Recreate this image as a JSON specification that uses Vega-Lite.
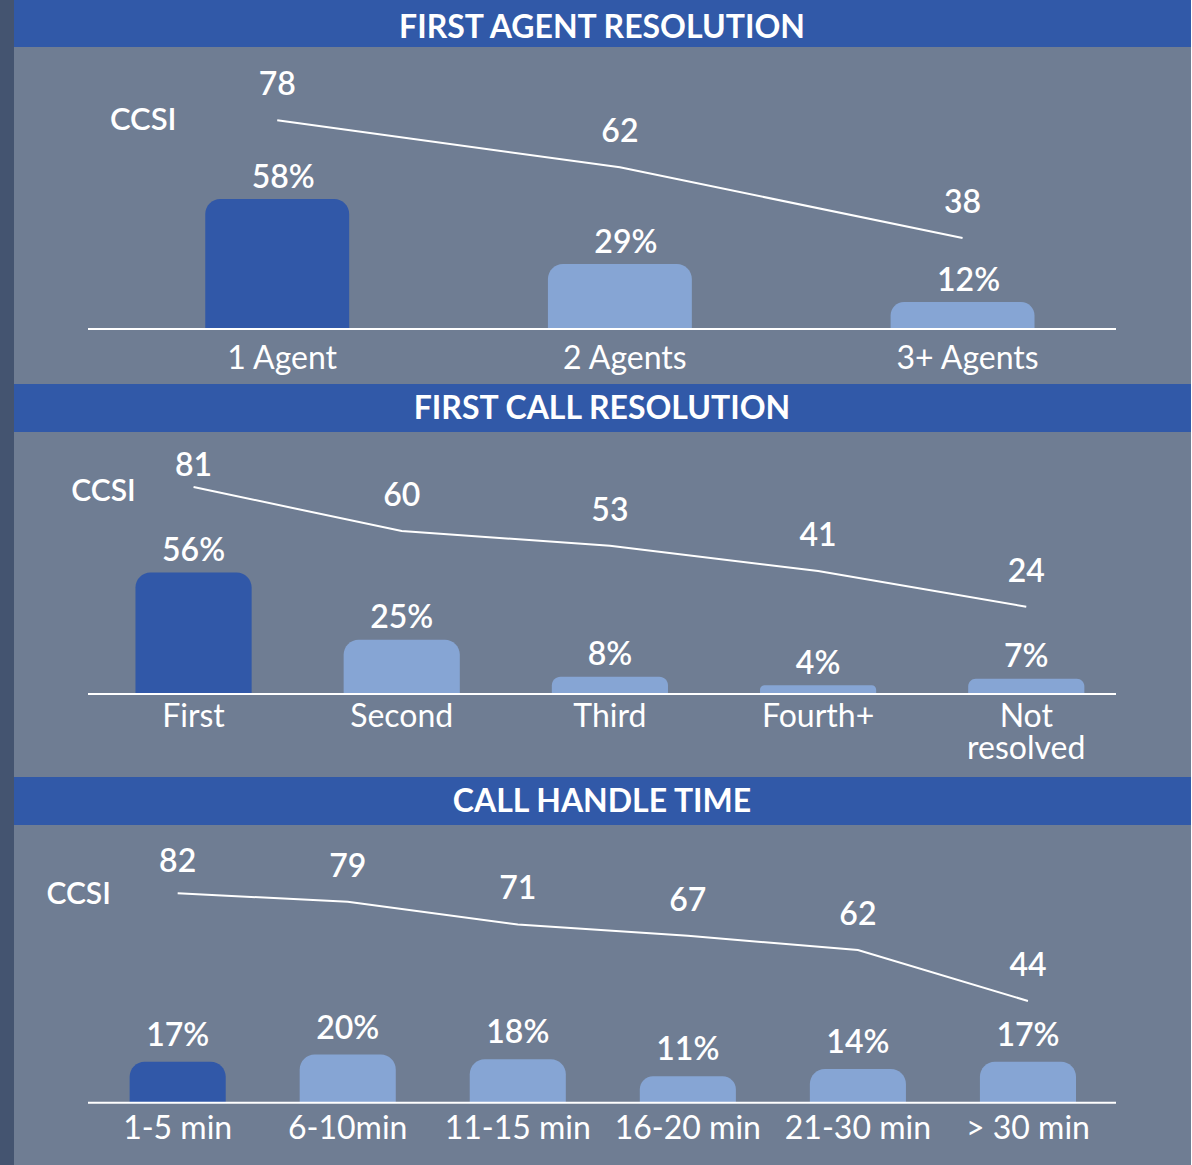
{
  "$schema": "https://vega.github.io/schema/vega-lite/v6.json",
  "background": "#6f7d93",
  "padding": 0,
  "spacing": 0,
  "bounds": "flush",
  "config": {
    "view": {"stroke": null},
    "font": "Lato",
    "text": {"font": "Lato", "fill": "white"}
  },
  "hconcat": [
    {
      "width": 13, "height": 1165,
      "view": {"fill": "#445470"},
      "data": {"values": [{"t": ""}]},
      "mark": {"type": "text"},
      "encoding": {"text": {"field": "t"}}
    },
    {
      "spacing": 0,
      "center": true,
      "bounds": "flush",
      "vconcat": [
        {
          "width": 1178, "height": 47,
          "view": {"fill": "#3159a8"},
          "data": {"values": [{"title": "FIRST AGENT RESOLUTION"}]},
          "mark": {"type": "text", "fontSize": 32, "fontWeight": 700, "baseline": "alphabetic", "dy": 14},
          "encoding": {"text": {"field": "title"}}
        },
        {
          "width": 1028, "height": 337,
          "data": {"values": [
            {"cat": "1 Agent", "pct": 0.58, "ccsi": 78},
            {"cat": "2 Agents", "pct": 0.29, "ccsi": 62},
            {"cat": "3+ Agents", "pct": 0.12, "ccsi": 38}
          ]},
          "layer": [
            {
              "mark": {"type": "bar", "cornerRadiusTopLeft": 15, "cornerRadiusTopRight": 15},
              "encoding": {
                "x": {"field": "cat", "type": "nominal", "sort": null, "scale": {"paddingInner": 0.58, "paddingOuter": 0.29, "align": 0.59}, "axis": null},
                "y": {"field": "pct", "type": "quantitative", "scale": {"domain": [-0.2455, 1.2589], "nice": false, "zero": false}, "axis": null},
                "y2": {"datum": 0},
                "color": {"condition": {"test": "datum.cat === '1 Agent'", "value": "#3158a8"}, "value": "#86a5d4"}
              }
            },
            {
              "mark": {"type": "text", "fontSize": 32, "fontWeight": 600, "baseline": "alphabetic", "dy": -11, "dx": 6},
              "encoding": {
                "x": {"field": "cat", "type": "nominal", "sort": null, "scale": {"paddingInner": 0.58, "paddingOuter": 0.29, "align": 0.59}, "axis": null},
                "y": {"field": "pct", "type": "quantitative", "scale": {"domain": [-0.2455, 1.2589], "nice": false, "zero": false}, "axis": null},
                "text": {"field": "pct", "type": "quantitative", "format": ".0%"}
              }
            },
            {
              "transform": [{"filter": "datum.cat === '1 Agent'"}],
              "mark": {"type": "rule", "color": "white", "strokeWidth": 2},
              "encoding": {
                "y": {"datum": 0, "type": "quantitative", "scale": {"domain": [-0.2455, 1.2589], "nice": false, "zero": false}, "axis": null}
              }
            },
            {
              "mark": {"type": "text", "fontSize": 32, "fontWeight": 400, "baseline": "alphabetic", "dy": 40, "dx": 5},
              "encoding": {
                "x": {"field": "cat", "type": "nominal", "sort": null, "scale": {"paddingInner": 0.58, "paddingOuter": 0.29, "align": 0.59}, "axis": null},
                "y": {"datum": 0, "type": "quantitative", "scale": {"domain": [-0.2455, 1.2589], "nice": false, "zero": false}, "axis": null},
                "text": {"field": "cat"}
              }
            },
            {
              "mark": {"type": "line", "color": "white", "strokeWidth": 2},
              "encoding": {
                "x": {"field": "cat", "type": "nominal", "sort": null, "scale": {"paddingInner": 0.58, "paddingOuter": 0.29, "align": 0.59}, "axis": null},
                "y": {"field": "ccsi", "type": "quantitative", "scale": {"domain": [-11.69, 102.93], "nice": false, "zero": false}, "axis": null}
              }
            },
            {
              "mark": {"type": "text", "fontSize": 32, "fontWeight": 600, "baseline": "alphabetic", "dy": -25},
              "encoding": {
                "x": {"field": "cat", "type": "nominal", "sort": null, "scale": {"paddingInner": 0.58, "paddingOuter": 0.29, "align": 0.59}, "axis": null},
                "y": {"field": "ccsi", "type": "quantitative", "scale": {"domain": [-11.69, 102.93], "nice": false, "zero": false}, "axis": null},
                "text": {"field": "ccsi", "type": "quantitative", "format": "d"}
              }
            },
            {
              "transform": [{"filter": "datum.cat === '1 Agent'"}],
              "mark": {"type": "text", "fontSize": 31, "fontWeight": 600, "baseline": "alphabetic", "dx": -134, "dy": 10},
              "encoding": {
                "x": {"field": "cat", "type": "nominal", "sort": null, "scale": {"paddingInner": 0.58, "paddingOuter": 0.29, "align": 0.59}, "axis": null},
                "y": {"field": "ccsi", "type": "quantitative", "scale": {"domain": [-11.69, 102.93], "nice": false, "zero": false}, "axis": null},
                "text": {"value": "CCSI"}
              }
            }
          ],
          "resolve": {"scale": {"y": "independent"}}
        },
        {
          "width": 1178, "height": 48,
          "view": {"fill": "#3159a8"},
          "data": {"values": [{"title": "FIRST CALL RESOLUTION"}]},
          "mark": {"type": "text", "fontSize": 32, "fontWeight": 700, "baseline": "alphabetic", "dy": 11},
          "encoding": {"text": {"field": "title"}}
        },
        {
          "width": 1028, "height": 345,
          "data": {"values": [
            {"cat": "First", "pct": 0.56, "ccsi": 81},
            {"cat": "Second", "pct": 0.25, "ccsi": 60},
            {"cat": "Third", "pct": 0.08, "ccsi": 53},
            {"cat": "Fourth+", "pct": 0.04, "ccsi": 41},
            {"cat": "Not resolved", "pct": 0.07, "ccsi": 24}
          ]},
          "layer": [
            {
              "mark": {"type": "bar", "cornerRadiusTopLeft": 15, "cornerRadiusTopRight": 15},
              "encoding": {
                "x": {"field": "cat", "type": "nominal", "sort": null, "scale": {"paddingInner": 0.442, "paddingOuter": 0.19, "align": 0.6}, "axis": null},
                "y": {"field": "pct", "type": "quantitative", "scale": {"domain": [-0.3825, 1.2074], "nice": false, "zero": false}, "axis": null},
                "y2": {"datum": 0},
                "color": {"condition": {"test": "datum.cat === 'First'", "value": "#3158a8"}, "value": "#86a5d4"}
              }
            },
            {
              "mark": {"type": "text", "fontSize": 32, "fontWeight": 600, "baseline": "alphabetic", "dy": -11.5},
              "encoding": {
                "x": {"field": "cat", "type": "nominal", "sort": null, "scale": {"paddingInner": 0.442, "paddingOuter": 0.19, "align": 0.6}, "axis": null},
                "y": {"field": "pct", "type": "quantitative", "scale": {"domain": [-0.3825, 1.2074], "nice": false, "zero": false}, "axis": null},
                "text": {"field": "pct", "type": "quantitative", "format": ".0%"}
              }
            },
            {
              "transform": [{"filter": "datum.cat === 'First'"}],
              "mark": {"type": "rule", "color": "white", "strokeWidth": 2},
              "encoding": {
                "y": {"datum": 0, "type": "quantitative", "scale": {"domain": [-0.3825, 1.2074], "nice": false, "zero": false}, "axis": null}
              }
            },
            {
              "mark": {"type": "text", "fontSize": 32, "fontWeight": 400, "baseline": "alphabetic", "dy": 33, "lineBreak": " ", "lineHeight": 32},
              "encoding": {
                "x": {"field": "cat", "type": "nominal", "sort": null, "scale": {"paddingInner": 0.442, "paddingOuter": 0.19, "align": 0.6}, "axis": null},
                "y": {"datum": 0, "type": "quantitative", "scale": {"domain": [-0.3825, 1.2074], "nice": false, "zero": false}, "axis": null},
                "text": {"field": "cat"}
              }
            },
            {
              "mark": {"type": "line", "color": "white", "strokeWidth": 2},
              "encoding": {
                "x": {"field": "cat", "type": "nominal", "sort": null, "scale": {"paddingInner": 0.442, "paddingOuter": 0.19, "align": 0.6}, "axis": null},
                "y": {"field": "ccsi", "type": "quantitative", "scale": {"domain": [-57.1, 107.19], "nice": false, "zero": false}, "axis": null}
              }
            },
            {
              "transform": [{"filter": "datum.cat !== 'First'"}],
              "mark": {"type": "text", "fontSize": 32, "fontWeight": 600, "baseline": "alphabetic", "dy": -25},
              "encoding": {
                "x": {"field": "cat", "type": "nominal", "sort": null, "scale": {"paddingInner": 0.442, "paddingOuter": 0.19, "align": 0.6}, "axis": null},
                "y": {"field": "ccsi", "type": "quantitative", "scale": {"domain": [-57.1, 107.19], "nice": false, "zero": false}, "axis": null},
                "text": {"field": "ccsi", "type": "quantitative", "format": "d"}
              }
            },
            {
              "transform": [{"filter": "datum.cat === 'First'"}],
              "mark": {"type": "text", "fontSize": 32, "fontWeight": 600, "baseline": "alphabetic", "dy": -11},
              "encoding": {
                "x": {"field": "cat", "type": "nominal", "sort": null, "scale": {"paddingInner": 0.442, "paddingOuter": 0.19, "align": 0.6}, "axis": null},
                "y": {"field": "ccsi", "type": "quantitative", "scale": {"domain": [-57.1, 107.19], "nice": false, "zero": false}, "axis": null},
                "text": {"field": "ccsi", "type": "quantitative", "format": "d"}
              }
            },
            {
              "transform": [{"filter": "datum.cat === 'First'"}],
              "mark": {"type": "text", "fontSize": 30, "fontWeight": 600, "baseline": "alphabetic", "dx": -90, "dy": 14.5},
              "encoding": {
                "x": {"field": "cat", "type": "nominal", "sort": null, "scale": {"paddingInner": 0.442, "paddingOuter": 0.19, "align": 0.6}, "axis": null},
                "y": {"field": "ccsi", "type": "quantitative", "scale": {"domain": [-57.1, 107.19], "nice": false, "zero": false}, "axis": null},
                "text": {"value": "CCSI"}
              }
            }
          ],
          "resolve": {"scale": {"y": "independent"}}
        },
        {
          "width": 1178, "height": 48,
          "view": {"fill": "#3159a8"},
          "data": {"values": [{"title": "CALL HANDLE TIME"}]},
          "mark": {"type": "text", "fontSize": 32, "fontWeight": 700, "baseline": "alphabetic", "dy": 11},
          "encoding": {"text": {"field": "title"}}
        },
        {
          "width": 1028, "height": 340,
          "data": {"values": [
            {"cat": "1-5 min", "pct": 0.17, "ccsi": 82},
            {"cat": "6-10min", "pct": 0.20, "ccsi": 79},
            {"cat": "11-15 min", "pct": 0.18, "ccsi": 71},
            {"cat": "16-20 min", "pct": 0.11, "ccsi": 67},
            {"cat": "21-30 min", "pct": 0.14, "ccsi": 62},
            {"cat": "> 30 min", "pct": 0.17, "ccsi": 44}
          ]},
          "layer": [
            {
              "mark": {"type": "bar", "cornerRadiusTopLeft": 15, "cornerRadiusTopRight": 15},
              "encoding": {
                "x": {"field": "cat", "type": "nominal", "sort": null, "scale": {"paddingInner": 0.435, "paddingOuter": 0.24, "align": 0.51}, "axis": null},
                "y": {"field": "pct", "type": "quantitative", "scale": {"domain": [-0.2585, 1.1523], "nice": false, "zero": false}, "axis": null},
                "y2": {"datum": 0},
                "color": {"condition": {"test": "datum.cat === '1-5 min'", "value": "#3158a8"}, "value": "#86a5d4"}
              }
            },
            {
              "mark": {"type": "text", "fontSize": 32, "fontWeight": 600, "baseline": "alphabetic", "dy": -16},
              "encoding": {
                "x": {"field": "cat", "type": "nominal", "sort": null, "scale": {"paddingInner": 0.435, "paddingOuter": 0.24, "align": 0.51}, "axis": null},
                "y": {"field": "pct", "type": "quantitative", "scale": {"domain": [-0.2585, 1.1523], "nice": false, "zero": false}, "axis": null},
                "text": {"field": "pct", "type": "quantitative", "format": ".0%"}
              }
            },
            {
              "transform": [{"filter": "datum.cat === '1-5 min'"}],
              "mark": {"type": "rule", "color": "white", "strokeWidth": 2},
              "encoding": {
                "y": {"datum": 0, "type": "quantitative", "scale": {"domain": [-0.2585, 1.1523], "nice": false, "zero": false}, "axis": null}
              }
            },
            {
              "mark": {"type": "text", "fontSize": 32, "fontWeight": 400, "baseline": "alphabetic", "dy": 36},
              "encoding": {
                "x": {"field": "cat", "type": "nominal", "sort": null, "scale": {"paddingInner": 0.435, "paddingOuter": 0.24, "align": 0.51}, "axis": null},
                "y": {"datum": 0, "type": "quantitative", "scale": {"domain": [-0.2585, 1.1523], "nice": false, "zero": false}, "axis": null},
                "text": {"field": "cat"}
              }
            },
            {
              "mark": {"type": "line", "color": "white", "strokeWidth": 2},
              "encoding": {
                "x": {"field": "cat", "type": "nominal", "sort": null, "scale": {"paddingInner": 0.435, "paddingOuter": 0.24, "align": 0.51}, "axis": null},
                "y": {"field": "ccsi", "type": "quantitative", "scale": {"domain": [-13.87, 106.1], "nice": false, "zero": false}, "axis": null}
              }
            },
            {
              "transform": [{"filter": "datum.cat !== '1-5 min'"}],
              "mark": {"type": "text", "fontSize": 32, "fontWeight": 600, "baseline": "alphabetic", "dy": -25},
              "encoding": {
                "x": {"field": "cat", "type": "nominal", "sort": null, "scale": {"paddingInner": 0.435, "paddingOuter": 0.24, "align": 0.51}, "axis": null},
                "y": {"field": "ccsi", "type": "quantitative", "scale": {"domain": [-13.87, 106.1], "nice": false, "zero": false}, "axis": null},
                "text": {"field": "ccsi", "type": "quantitative", "format": "d"}
              }
            },
            {
              "transform": [{"filter": "datum.cat === '1-5 min'"}],
              "mark": {"type": "text", "fontSize": 32, "fontWeight": 600, "baseline": "alphabetic", "dy": -21},
              "encoding": {
                "x": {"field": "cat", "type": "nominal", "sort": null, "scale": {"paddingInner": 0.435, "paddingOuter": 0.24, "align": 0.51}, "axis": null},
                "y": {"field": "ccsi", "type": "quantitative", "scale": {"domain": [-13.87, 106.1], "nice": false, "zero": false}, "axis": null},
                "text": {"field": "ccsi", "type": "quantitative", "format": "d"}
              }
            },
            {
              "transform": [{"filter": "datum.cat === '1-5 min'"}],
              "mark": {"type": "text", "fontSize": 30, "fontWeight": 600, "baseline": "alphabetic", "dx": -99, "dy": 10.5},
              "encoding": {
                "x": {"field": "cat", "type": "nominal", "sort": null, "scale": {"paddingInner": 0.435, "paddingOuter": 0.24, "align": 0.51}, "axis": null},
                "y": {"field": "ccsi", "type": "quantitative", "scale": {"domain": [-13.87, 106.1], "nice": false, "zero": false}, "axis": null},
                "text": {"value": "CCSI"}
              }
            }
          ],
          "resolve": {"scale": {"y": "independent"}}
        }
      ]
    },
    {
      "width": 1, "height": 1165,
      "view": {"fill": "#445470"},
      "data": {"values": [{"t": ""}]},
      "mark": {"type": "text"},
      "encoding": {"text": {"field": "t"}}
    }
  ]
}
